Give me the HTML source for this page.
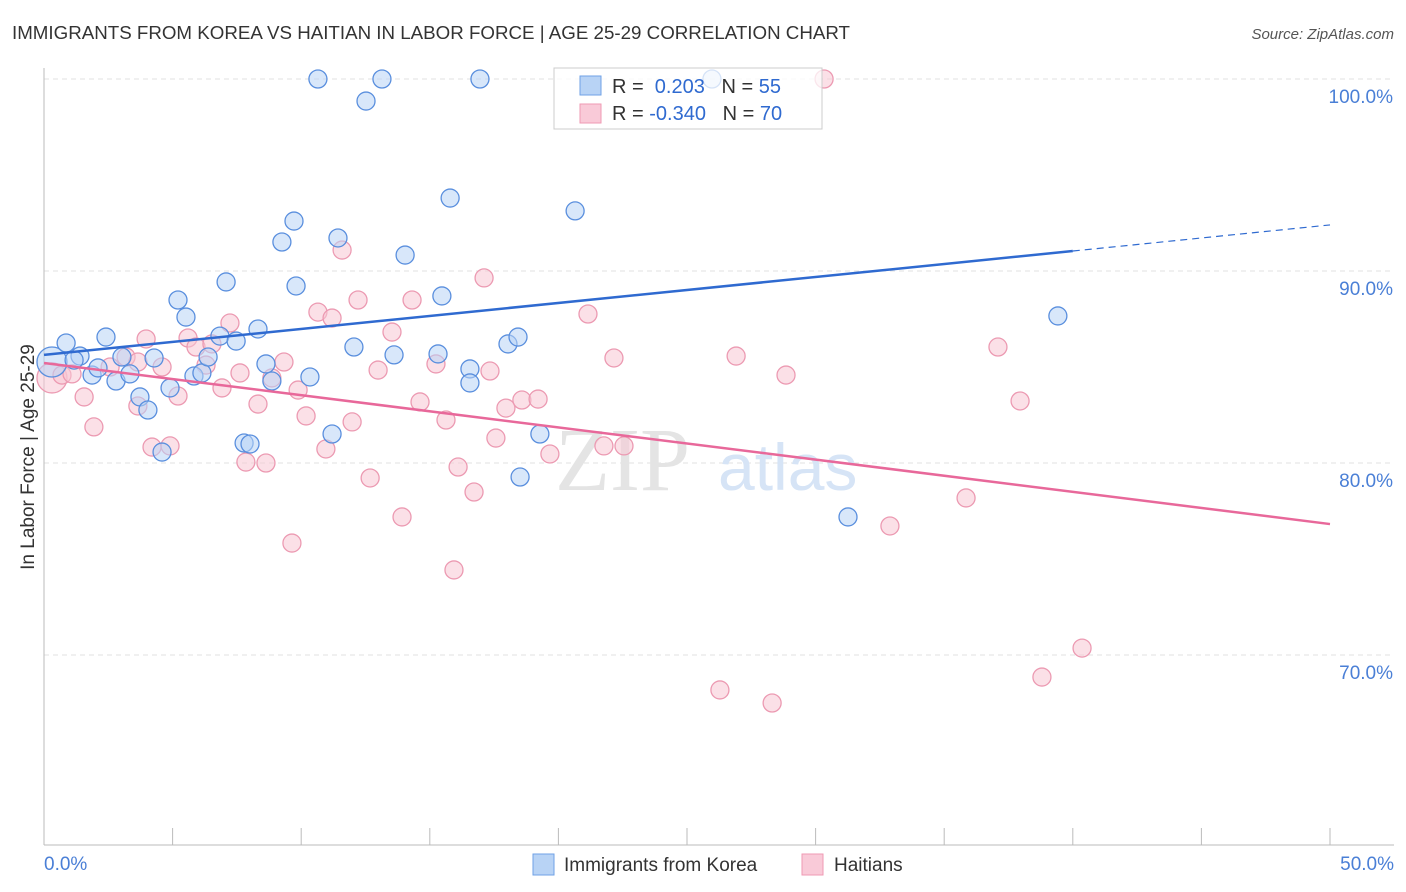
<!DOCTYPE html>
<html><head><meta charset="utf-8"><style>
body{margin:0;background:#fff;font-family:"Liberation Sans",sans-serif;}
svg{display:block}
</style></head><body>
<svg width="1406" height="892" id="chart">
<text x="12" y="39" font-size="18" fill="#333" textLength="838" lengthAdjust="spacingAndGlyphs">IMMIGRANTS FROM KOREA VS HAITIAN IN LABOR FORCE | AGE 25-29 CORRELATION CHART</text>
<text x="1394" y="39" font-size="15" fill="#555" text-anchor="end" font-style="italic">Source: ZipAtlas.com</text>
<text x="34" y="457" font-size="19" fill="#333" text-anchor="middle" transform="rotate(-90 34 457)">In Labor Force | Age 25-29</text>
<g id="grid"></g>
<text x="555" y="490" font-size="90" fill="#e4e4e4" font-family="Liberation Serif">ZIP</text>
<text x="718" y="490" font-size="66" fill="#d6e4f6">atlas</text>
<g id="points"></g>
<g id="lines"></g>
<g id="legend">
<rect x="554" y="68" width="268" height="61" fill="#fff" fill-opacity="0.75" stroke="#ccc"/>
<rect x="580" y="76" width="21" height="19" fill="#b8d3f5" stroke="#6fa1e6"/>
<rect x="580" y="104" width="21" height="19" fill="#f9cad8" stroke="#ef9ab3"/>
<text x="612" y="93" font-size="20" fill="#333">R = <tspan fill="#2f6ad0">&#160;0.203</tspan>&#160;&#160;&#160;N = <tspan fill="#2f6ad0">55</tspan></text>
<text x="612" y="120" font-size="20" fill="#333">R = <tspan fill="#2f6ad0">-0.340</tspan>&#160;&#160;&#160;N = <tspan fill="#2f6ad0">70</tspan></text>
</g>
<g>
<rect x="533" y="854" width="21" height="21" fill="#b8d3f5" stroke="#6fa1e6"/>
<text x="564" y="871" font-size="19" fill="#333">Immigrants from Korea</text>
<rect x="802" y="854" width="21" height="21" fill="#f9cad8" stroke="#ef9ab3"/>
<text x="834" y="871" font-size="19" fill="#333">Haitians</text>
</g>
</svg>
<script>
const xTicks=[0,5,10,15,20,25,30,35,40,45,50];
const yTicks=[70,80,90,100];
const yTickLabels=["70.0%","80.0%","90.0%","100.0%"];
const xLabels=["0.0%","50.0%"];
const koreaX=[0.31,0.86,1.40,1.17,1.87,2.41,2.10,2.80,3.03,3.34,3.73,4.04,4.28,4.59,4.90,5.21,5.52,5.83,6.14,6.38,6.84,7.08,7.47,7.78,8.01,8.32,8.63,8.86,9.25,9.72,9.80,10.34,10.65,11.20,11.43,12.05,12.52,13.14,13.61,14.04,15.32,15.47,15.79,16.56,16.56,16.95,18.04,18.43,18.51,19.28,20.65,25.97,31.26,39.42];
const koreaY=[85.26,86.25,85.57,85.36,84.58,86.56,84.95,84.27,85.52,84.64,83.44,82.76,85.47,80.57,83.91,88.49,87.60,84.53,84.69,85.52,86.61,89.43,86.35,81.04,80.99,86.98,85.16,84.27,91.51,92.60,89.22,84.48,100,81.51,91.72,86.04,98.85,100,85.63,90.83,85.68,88.70,93.80,84.90,84.17,100,86.20,86.56,79.27,81.51,93.13,100,77.19,87.66];
const haitiX=[0.31,0.70,1.09,1.56,1.94,2.57,3.19,3.65,3.65,3.97,4.20,4.59,4.90,5.21,5.60,5.91,6.30,6.53,6.92,7.23,7.62,7.85,8.32,8.63,8.86,9.33,9.64,9.88,10.19,10.65,10.96,11.20,11.59,11.98,12.21,12.68,12.99,13.53,13.92,14.31,14.62,15.24,15.63,15.94,16.10,16.72,17.11,17.34,17.57,17.96,18.58,19.21,19.67,21.15,21.77,22.16,22.55,26.28,26.91,28.31,28.85,30.33,32.89,35.85,37.09,37.95,38.80,40.36];
const haitiY=[84.43,84.58,84.64,83.44,81.88,85.0,85.52,85.26,82.97,86.46,80.83,85.0,80.89,83.49,86.51,86.04,85.10,86.20,83.91,87.29,84.69,80.05,83.07,80.0,84.43,85.26,75.83,83.80,82.45,87.86,80.73,87.55,91.09,82.14,88.49,79.22,84.84,86.82,77.19,88.49,83.18,85.16,82.24,74.43,79.79,78.49,89.64,84.79,81.30,82.86,83.28,83.33,80.47,87.76,80.89,85.47,80.89,68.18,85.57,67.50,84.58,100,76.72,78.18,86.04,83.23,68.85,70.36];
const koreaTrend=[[0,85.63],[40,91.04],[50,92.40]];
const haitiTrend=[[0,85.21],[50,76.82]];
const NS='http://www.w3.org/2000/svg';
const X=v=>44+v*25.72, Y=v=>79+(100-v)*19.2;
function mk(t,a,p){const e=document.createElementNS(NS,t);for(const k in a)e.setAttribute(k,a[k]);p.appendChild(e);return e;}
const g=document.getElementById('grid');
yTicks.forEach((t,i)=>{
 const l=mk('line',{x1:44,x2:1394,y1:Y(t),y2:Y(t),stroke:'#e2e2e2','stroke-dasharray':'5,4'},g);
 
 
 const tx=mk('text',{x:1393,y:Y(t)+24,'font-size':19,fill:'#4a7fd6','text-anchor':'end'},g);
 tx.textContent=yTickLabels[i];
 
 
});
mk('line',{x1:44,x2:44,y1:68,y2:845,stroke:'#bbb'},g);
mk('line',{x1:44,x2:1394,y1:845,y2:845,stroke:'#bbb'},g);
xTicks.forEach(t=>{const l=mk('line',{x1:X(t),x2:X(t),y1:828,y2:845,stroke:'#bbb'},g);
 
 });
[[0,'start',44],[50,'end',1394]].forEach((d,i)=>{const tx=mk('text',{x:d[2],y:870,'font-size':19,fill:'#4a7fd6','text-anchor':d[1]},g);tx.textContent=xLabels[i];
 
 });
const pg=document.getElementById('points');
function pts(xs,ys,fill,stroke,name){xs.forEach((x,i)=>{const c=mk('circle',{cx:X(x),cy:Y(ys[i]),r:i==0?15:9,fill:fill,'fill-opacity':0.55,stroke:stroke,'stroke-width':1.3},pg);
 
 });}
pts(haitiX,haitiY,'#f8c6d4','#ec9ab2','haitian-point');
pts(koreaX,koreaY,'#b8d3f5','#5a8fde','korea-point');
const lg=document.getElementById('lines');
let a=mk('line',{x1:X(koreaTrend[0][0]),y1:Y(koreaTrend[0][1]),x2:X(koreaTrend[1][0]),y2:Y(koreaTrend[1][1]),stroke:'#2f6ad0','stroke-width':2.5},lg);


a=mk('line',{x1:X(koreaTrend[1][0]),y1:Y(koreaTrend[1][1]),x2:X(koreaTrend[2][0]),y2:Y(koreaTrend[2][1]),stroke:'#2f6ad0','stroke-width':1.2,'stroke-dasharray':'7,5'},lg);


a=mk('line',{x1:X(haitiTrend[0][0]),y1:Y(haitiTrend[0][1]),x2:X(haitiTrend[1][0]),y2:Y(haitiTrend[1][1]),stroke:'#e8689a','stroke-width':2.5},lg);


</script>
</body></html>
